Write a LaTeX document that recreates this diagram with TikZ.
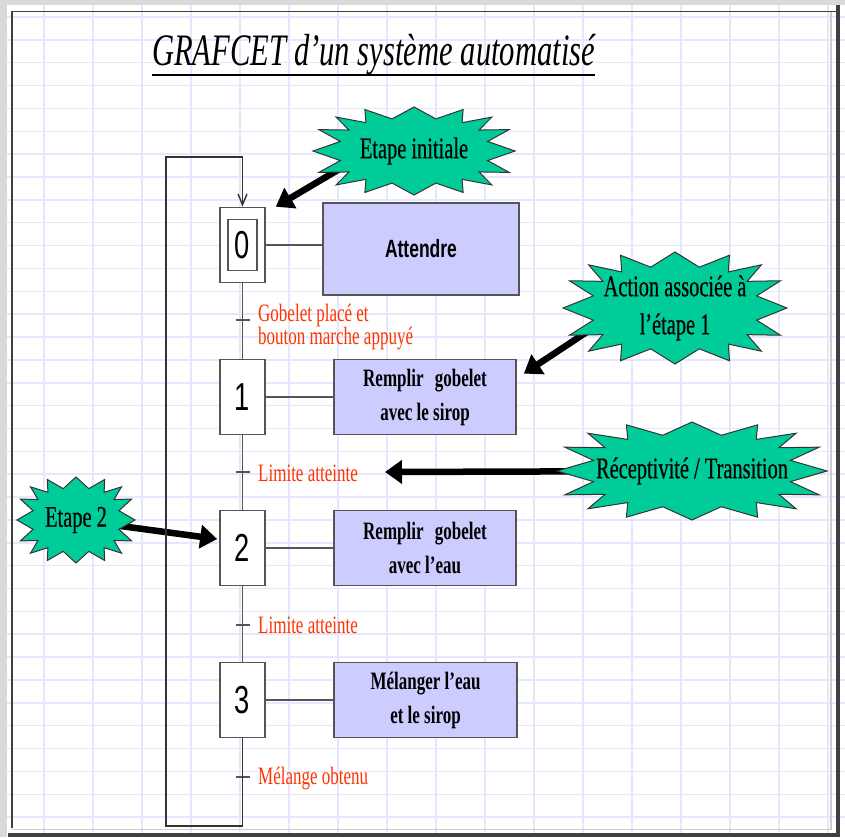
\documentclass[tikz,border=0pt]{standalone}
\usepackage{fontspec}
\newfontfamily\ser[FakeStretch=0.68]{Liberation Serif}
\newfontfamily\serb[FakeStretch=0.68,FakeBold=0.5]{Liberation Serif}
\newfontfamily\san[FakeStretch=0.70]{Liberation Sans}
\usetikzlibrary{arrows.meta,calc,shapes.geometric}
\definecolor{gridc}{RGB}{230,230,255}
\definecolor{actfill}{RGB}{204,204,255}
\definecolor{burstfill}{RGB}{0,204,153}
\definecolor{labred}{RGB}{255,51,0}
\definecolor{edgec}{RGB}{85,85,85}
\pgfdeclarelayer{back}
\pgfsetlayers{back,main}
\newcommand\mkburst[5]{%
  \draw[burstshape,shift={#2}] (#3,0)
    \foreach \i in {1,...,31}{ -- ({#3*(1-0.26*mod(\i,2))*cos(\i*11.25)*pow(abs(cos(\i*11.25))+0.001,-0.25)},{#4*(1-0.26*mod(\i,2))*sin(\i*11.25)*pow(abs(sin(\i*11.25))+0.001,-0.25)}) } -- cycle;
  \node[bursttext,minimum width={1.48*#3pt},minimum height={1.48*#4pt}] (#1) at #2 {#5};
}
\begin{document}
\begin{tikzpicture}[x=1pt,y=-1pt,
  stepbox/.style={draw=edgec,line width=1.6pt,fill=white,minimum width=45pt,minimum height=75pt,inner sep=0pt,font=\san\fontsize{39}{39}\selectfont},
  innerbox/.style={draw=edgec,line width=1.6pt,fill=white,minimum width=29pt,minimum height=51pt,inner sep=0pt,font=\san\fontsize{39}{39}\selectfont},
  actbox/.style={draw=edgec,line width=1.8pt,fill=actfill,inner sep=0pt,align=center,minimum width=182pt,minimum height=75pt,font=\ser\bfseries\fontsize{25}{34}\selectfont},
  link/.style={draw=edgec,line width=1.8pt},
  loopline/.style={draw=black!80,line width=1.4pt},
  tickmark/.style={draw=edgec,line width=1.8pt},
  lab/.style={anchor=west,inner sep=0pt,align=left,text=labred,font=\ser\fontsize{25}{22}\selectfont},
  burstshape/.style={fill=burstfill,draw=black!80,line width=1pt},
  bursttext/.style={ellipse,inner sep=0pt,align=center,font=\serb\fontsize{30}{38}\selectfont},
  bigarrow/.style={line width=6.5pt,-{Triangle[length=17pt,width=23pt]}},
  titletext/.style={inner sep=0pt,font=\ser\itshape\fontsize{45}{50}\selectfont}
]
\useasboundingbox (0,0) rectangle (845,837);
\begin{pgfonlayer}{back}
  \fill[white] (0,0) rectangle (845,837);
  \foreach \k in {0,...,16} \draw[gridc,line width=1.5pt] ({44+49*\k},0) -- ({44+49*\k},837);
  \foreach \k in {0,...,35} \draw[gridc,line width=1.5pt] (0,{17+22.86*\k}) -- (845,{17+22.86*\k});
  \fill[black!15] (0,0) rectangle (7,837);
  \fill[black!15] (0,0) rectangle (845,5);
\end{pgfonlayer}
% frame
\draw[black!20,line width=1.5pt] (12,829.5) -- (831,829.5) -- (831,11.5);
\draw[black!75,line width=1.5pt] (12,828) -- (12,11.5) -- (838,11.5);
\draw[black!75,line width=4pt] (838,5) -- (838,837);
\draw[black!75,line width=4pt] (8,835) -- (840,835);
% title
\node[titletext,anchor=base west] (title) at (152,66) {GRAFCET d’un système automatisé};
\draw[line width=2.5pt] ([yshift=-9pt]title.base west) -- ([yshift=-9pt]title.base east);
% steps
\node[stepbox] (s0) at (242.5,245) {};
\node[innerbox] (s0i) at (s0.center) {0};
\node[stepbox] (s1) at (242.5,397) {1};
\node[stepbox] (s2) at (242.5,548) {2};
\node[stepbox] (s3) at (242.5,700) {3};
% actions
\node[actbox,minimum width=196pt,minimum height=92pt,font=\san\bfseries\fontsize{25}{30}\selectfont] (a0) at (421,249) {Attendre};
\node[actbox] (a1) at (425,397) {Remplir\hspace{7pt} gobelet\\avec le sirop};
\node[actbox] (a2) at (425,548) {Remplir\hspace{7pt} gobelet\\avec l’eau};
\node[actbox,minimum width=183pt] (a3) at (425.5,700) {Mélanger l’eau\\et le sirop};
\draw[link] (s0.east) -- (s0.east -| a0.west);
\draw[link] (s1.east) -- (a1.west);
\draw[link] (s2.east) -- (a2.west);
\draw[link] (s3.east) -- (a3.west);
% transitions
\coordinate (t0) at (242.5,320);
\coordinate (t1) at (242.5,472);
\coordinate (t2) at (242.5,625);
\coordinate (t3) at (242.5,777);
\draw[link] (s0.south) -- (s1.north);
\draw[link] (s1.south) -- (s2.north);
\draw[link] (s2.south) -- (s3.north);
\foreach \t in {t0,t1,t2,t3} \draw[tickmark] ([xshift=-7pt]\t) -- ([xshift=7pt]\t);
\node[lab] (l0) at (258,327) {Gobelet placé et\\bouton marche appuyé};
\node[lab] (l1) at (258,473) {Limite atteinte};
\node[lab] (l2) at (258,625) {Limite atteinte};
\node[lab] (l3) at (258,778) {Mélange obtenu};
% loop back
\coordinate (lpBL) at (166,826);
\coordinate (lpTL) at (166,157);
\draw[loopline] (s3.south) -- (s3.south |- lpBL) -- (lpBL) -- (lpTL) -- (lpTL -| s0.north);
\draw[loopline,-{Straight Barb[length=11pt,width=9pt]}] (lpTL -| s0.north) -- (s0.north);
% bursts
\mkburst{ei}{(414,151)}{101}{44}{Etape initiale}
\mkburst{aa}{(675,308)}{112}{56}{Action associée à\\l’étape 1}
\mkburst{rt}{(692,471)}{135}{49}{Réceptivité / Transition}
\mkburst{e2}{(76,520)}{59}{43}{Etape 2}
\coordinate (rtTip) at (385,472);
\begin{pgfonlayer}{back}
  \draw[bigarrow] (ei.192) -- ([xshift=10pt]s0.north east);
  \draw[bigarrow] (aa.195) -- ([xshift=7pt,yshift=-15pt]a1.north east);
  \draw[bigarrow] (rt.center) -- (rtTip);
  \draw[bigarrow] (e2.center) -- ([xshift=-2pt,yshift=9pt]s2.west);
\end{pgfonlayer}
\end{tikzpicture}
\end{document}
